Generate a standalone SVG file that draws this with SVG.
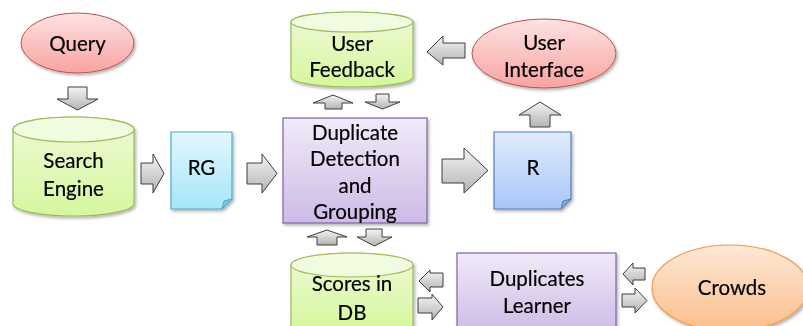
<svg xmlns="http://www.w3.org/2000/svg" width="803" height="326" viewBox="0 0 803 326">
  <defs>
    <linearGradient id="gRed" x1="0" y1="0" x2="0" y2="1">
      <stop offset="0" stop-color="#fde3e2"/>
      <stop offset="1" stop-color="#f8a3a1"/>
    </linearGradient>
    <linearGradient id="gGreen" x1="0" y1="0" x2="0" y2="1">
      <stop offset="0" stop-color="#eefad6"/>
      <stop offset="1" stop-color="#d5f79e"/>
    </linearGradient>
    <linearGradient id="gCyan" x1="0" y1="0" x2="0" y2="1">
      <stop offset="0" stop-color="#e4f7fd"/>
      <stop offset="1" stop-color="#a5e6f9"/>
    </linearGradient>
    <linearGradient id="gBlue" x1="0" y1="0" x2="0" y2="1">
      <stop offset="0" stop-color="#e2ecfc"/>
      <stop offset="1" stop-color="#a7c6f6"/>
    </linearGradient>
    <linearGradient id="gPurple" x1="0" y1="0" x2="0" y2="1">
      <stop offset="0" stop-color="#f1eaf8"/>
      <stop offset="1" stop-color="#cdbbe6"/>
    </linearGradient>
    <linearGradient id="gOrange" x1="0" y1="0" x2="0" y2="1">
      <stop offset="0" stop-color="#fde8d6"/>
      <stop offset="1" stop-color="#fbbf8c"/>
    </linearGradient>
    <linearGradient id="gGrey" x1="0" y1="0" x2="0" y2="1">
      <stop offset="0" stop-color="#f4f4f4"/>
      <stop offset="1" stop-color="#b4b4b4"/>
    </linearGradient>
    <filter id="shadow" x="-10%" y="-10%" width="125%" height="130%">
      <feDropShadow dx="1.5" dy="2" stdDeviation="1.5" flood-color="#000" flood-opacity="0.3"/>
    </filter>
  </defs>
  <style>
    text { font-family: Lato, "Open Sans", "Liberation Sans", sans-serif; font-size: 20.5px; fill: #000; stroke: #000; stroke-width: 0.2px; text-anchor: middle; dominant-baseline: central; }
    .arrow { fill: url(#gGrey); stroke: #3c3c3c; stroke-width: 1; stroke-linejoin: miter; }
    .red { fill: url(#gRed); stroke: #c0504d; stroke-width: 1; }
    .green { fill: url(#gGreen); stroke: #9bbb59; stroke-width: 1.2; }
    .greenTop { fill: #f1fbe0; stroke: #9bbb59; stroke-width: 1.2; }
    .cyan { fill: url(#gCyan); stroke: #4bacc6; stroke-width: 1.2; }
    .cyanFold { fill: #7cc8de; stroke: #4bacc6; stroke-width: 1; }
    .blue { fill: url(#gBlue); stroke: #4f81bd; stroke-width: 1.2; }
    .blueFold { fill: #84a8dc; stroke: #4f81bd; stroke-width: 1; }
    .purple { fill: url(#gPurple); stroke: #8064a2; stroke-width: 1.2; }
    .orange { fill: url(#gOrange); stroke: #f79646; stroke-width: 1.2; }
    .node { filter: url(#shadow); }
  </style>

  <rect width="803" height="326" fill="#ffffff"/>

  <!-- Query -->
  <g id="query" class="node">
    <ellipse class="red" cx="77.5" cy="43" rx="56.5" ry="30"/>
    <text x="77.5" y="43">Query</text>
  </g>

  <!-- Search Engine (cylinder) -->
  <g id="search-engine" class="node">
    <path class="green" d="M13,129.5 A60.5,12.5 0 0 1 134,129.5 V203.5 A60.5,12.5 0 0 1 13,203.5 Z"/>
    <ellipse class="greenTop" cx="73.5" cy="129.5" rx="60.5" ry="12.5"/>
    <text x="73.5" y="160">Search</text>
    <text x="73.5" y="188">Engine</text>
  </g>

  <!-- RG (document) -->
  <g id="rg" class="node">
    <path class="cyan" d="M171,132 H232 V199 L222,209 H171 Z"/>
    <path class="cyanFold" d="M232,199 L224,201 L222,209 Z"/>
    <text x="201.5" y="167">RG</text>
  </g>

  <!-- User Feedback (cylinder) -->
  <g id="user-feedback" class="node">
    <path class="green" d="M291,22 A61,10 0 0 1 413,22 V77 A61,10 0 0 1 291,77 Z"/>
    <ellipse class="greenTop" cx="352" cy="22" rx="61" ry="10"/>
    <text x="352" y="43">User</text>
    <text x="352" y="69">Feedback</text>
  </g>

  <!-- Duplicate Detection and Grouping -->
  <g id="duplicate-detection" class="node">
    <rect class="purple" x="283" y="118" width="144" height="105"/>
    <text x="355" y="132">Duplicate</text>
    <text x="355" y="158">Detection</text>
    <text x="355" y="185">and</text>
    <text x="355" y="211">Grouping</text>
  </g>

  <!-- User Interface -->
  <g id="user-interface" class="node">
    <ellipse class="red" cx="544" cy="53.5" rx="72" ry="34.5"/>
    <text x="544" y="42">User</text>
    <text x="544" y="69">Interface</text>
  </g>

  <!-- R (document) -->
  <g id="r" class="node">
    <path class="blue" d="M494,132 H571 V199 L561,209 H494 Z"/>
    <path class="blueFold" d="M571,199 L563,201 L561,209 Z"/>
    <text x="533" y="167">R</text>
  </g>

  <!-- Scores in DB (cylinder) -->
  <g id="scores-db" class="node">
    <path class="green" d="M291,265 A61,12 0 0 1 413,265 V330 H291 Z"/>
    <ellipse class="greenTop" cx="352" cy="265" rx="61" ry="12"/>
    <text x="352" y="283">Scores in</text>
    <text x="352" y="312">DB</text>
  </g>

  <!-- Duplicates Learner -->
  <g id="duplicates-learner" class="node">
    <rect class="purple" x="457" y="253" width="159" height="80"/>
    <text x="537" y="278">Duplicates</text>
    <text x="537" y="305">Learner</text>
  </g>

  <!-- Crowds -->
  <g id="crowds" class="node">
    <ellipse class="orange" cx="730" cy="288" rx="78" ry="43"/>
    <text x="732" y="287">Crowds</text>
  </g>

  <!-- Block arrows between the components -->
  <g id="connectors">
    <!-- Query -> Search Engine -->
    <path class="arrow" d="M68,87 H87 V99 H98 L77.5,110 L57,99 H68 Z"/>
    <!-- Search Engine -> RG -->
    <path class="arrow" d="M141,163 H153 V154 L164,173.5 L153,193 V184 H141 Z"/>
    <!-- RG -> Duplicate Detection -->
    <path class="arrow" d="M247,163 H262 V154 L277,173.5 L262,193 V184 H247 Z"/>
    <!-- Duplicate Detection -> User Feedback -->
    <path class="arrow" d="M325,109 V103 H313 L333,95 L353,103 H342 V109 Z"/>
    <!-- User Feedback -> Duplicate Detection -->
    <path class="arrow" d="M376,94 H389 V102 H400 L382.5,109 L365,102 H376 Z"/>
    <!-- User Interface -> User Feedback -->
    <path class="arrow" d="M465,43 V58 H443 V65 L427,52 L443,36 V43 Z"/>
    <!-- Duplicate Detection -> R -->
    <path class="arrow" d="M442,159 H464 V148 L488,170.5 L464,193 V183 H442 Z"/>
    <!-- R -> User Interface -->
    <path class="arrow" d="M530,127 V115 H519 L540,102 L561,115 H550 V127 Z"/>
    <!-- Scores in DB -> Duplicate Detection -->
    <path class="arrow" d="M317,245 V237 H307 L327,230 L347,237 H337 V245 Z"/>
    <!-- Duplicate Detection -> Scores in DB -->
    <path class="arrow" d="M366,229 H382 V237 H392 L374.5,246 L357,237 H366 Z"/>
    <!-- Duplicates Learner -> Scores in DB -->
    <path class="arrow" d="M443,273 V287 H430 V292 L419,281 L430,270 V273 Z"/>
    <!-- Scores in DB -> Duplicates Learner -->
    <path class="arrow" d="M418,298 H432 V294 L443,307 L432,320 V313 H418 Z"/>
    <!-- Crowds -> Duplicates Learner -->
    <path class="arrow" d="M645,268 V280 H633 V285 L623,274 L633,263 V268 Z"/>
    <!-- Duplicates Learner -> Crowds -->
    <path class="arrow" d="M622,294 H635 V288 L647,300.5 L635,313 V307 H622 Z"/>
  </g>
</svg>
